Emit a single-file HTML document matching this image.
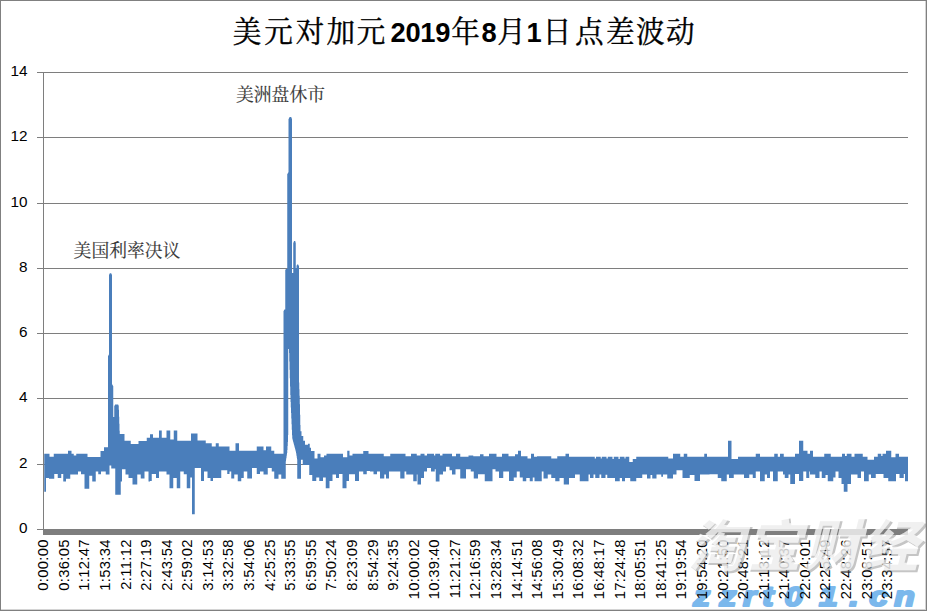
<!DOCTYPE html>
<html lang="zh-CN">
<head>
<meta charset="utf-8">
<title>美元对加元 2019年8月1日点差波动</title>
<style>
html,body{margin:0;padding:0;background:#fff;}
body{width:927px;height:611px;overflow:hidden;font-family:"Liberation Sans",sans-serif;}
#chart{display:block;width:927px;height:611px;}
#chart text{font-family:"Liberation Sans",sans-serif;fill:#000;}
.ylab{font-size:15.3px;text-anchor:end;}
.xlab{font-size:14.8px;text-anchor:end;letter-spacing:0.3px;}
.tnum{font-size:27.3px;font-weight:bold;letter-spacing:-0.3px;}
.wmurl{font-size:28px;font-weight:bold;font-style:italic;stroke:#74b5ec;stroke-width:2.2px;stroke-linejoin:round;}
</style>
</head>
<body>
<svg id="chart" width="927" height="611" viewBox="0 0 927 611" role="img" aria-label="美元对加元 2019年8月1日点差波动">
<rect x="0" y="0" width="927" height="611" fill="#fff"/>
<g shape-rendering="crispEdges">
<rect x="925" y="0" width="1" height="611" fill="#d4d4d4"/>
<rect x="0" y="609" width="927" height="1" fill="#d4d4d4"/>
<rect x="0" y="0" width="927" height="1" fill="#808080"/>
<rect x="0" y="0" width="1" height="611" fill="#808080"/>
<rect x="926" y="0" width="1" height="611" fill="#808080"/>
<rect x="0" y="610" width="927" height="1" fill="#808080"/>
<g fill="#7e7e7e">
<rect x="37" y="72" width="871" height="1"/>
<rect x="37" y="137" width="871" height="1"/>
<rect x="37" y="203" width="871" height="1"/>
<rect x="37" y="268" width="871" height="1"/>
<rect x="37" y="333" width="871" height="1"/>
<rect x="37" y="398" width="871" height="1"/>
<rect x="37" y="464" width="871" height="1"/>
<rect x="37" y="529" width="7" height="1"/>
<rect x="43" y="72" width="1" height="457"/>
<rect x="43" y="529" width="865" height="6"/>
</g>
</g>
<g class="ylabs">
<text class="ylab" x="27.5" y="76.4">14</text>
<text class="ylab" x="27.5" y="141.4">12</text>
<text class="ylab" x="27.5" y="207.4">10</text>
<text class="ylab" x="27.5" y="272.4">8</text>
<text class="ylab" x="27.5" y="337.4">6</text>
<text class="ylab" x="27.5" y="402.4">4</text>
<text class="ylab" x="27.5" y="468.4">2</text>
<text class="ylab" x="27.5" y="533.4">0</text>
</g>
<path id="series" fill="#4a7ebb" d="M44.25 453.75V491.75H46V453.75zM46 453.75V478H49V453.75zM49 453.75V478.75H49.5V453.75zM49.5 456.75V478.75H53.75V456.75zM53.75 453.75V478.75H54.25V453.75zM54.25 453.75V474H57.75V453.75zM57.75 453.75V478H61.25V453.75zM61.25 453.75V474H63.25V453.75zM63.25 453.75V481.5H66V453.75zM66 453.75V478.75H68V453.75zM68 450.75V478.75H70.25V450.75zM70.25 450.75V474.5H71.5V450.75zM71.5 453.75V474.5H73.75V453.75zM73.75 455.5V474.5H76.25V455.5zM76.25 453.75V474.5H78V453.75zM78 453.75V471.5H81V453.75zM81 453.75V474.25H84.5V453.75zM84.5 453.75V488.75H87.5V453.75zM87.5 457V488.75H89.25V457zM89.25 457V475.75H92.25V457zM92.25 457V481.5H95.75V457zM95.75 457V471.5H98.25V457zM98.25 457V474.25H100.5V457zM100.5 451V474.25H101V451zM101 451V471.5H104V451zM104 447.25V471.5H105.75V447.25zM105.75 447.25V474.5H108V447.25zM108 356V474.5H108.25V356zM108.25 355.5V474.5H108.5V355.5zM108.5 355V474.5H108.75V355zM108.75 354.5V474.5H109V354.5zM109 274.75V474.5H109.25V274.75zM109.25 274.25V474.5H109.5V274.25zM109.5 273.75V465.5H109.75V273.75zM109.75 273.25V465.5H111.25V273.25zM111.25 273.75V468.5H111.5V273.75zM111.5 274.25V468.5H111.75V274.25zM111.75 274.75V468.5H112V274.75zM112 384.25V468.5H112.25V384.25zM112.25 384.75V468.5H112.5V384.75zM112.5 385.25V468.5H112.75V385.25zM112.75 385.5V468.5H113V385.5zM113 386V468.5H113.25V386zM113.25 417V468.5H114.25V417zM114.25 406V468.5H114.5V406zM114.5 405.5V468.5H114.75V405.5zM114.75 405V468.5H115V405zM115 404.5V468.5H115.25V404.5zM115.25 404.5V494.75H118.25V404.5zM118.25 405V494.75H118.5V405zM118.5 405.75V494.75H118.75V405.75zM118.75 409.75V494.75H119V409.75zM119 416.75V494.75H119.25V416.75zM119.25 423.75V494.75H119.5V423.75zM119.5 430.75V494.75H119.75V430.75zM119.75 434V494.75H120.75V434zM120.75 434V481.5H122V434zM122 434V469.25H124.5V434zM124.5 440.75V469.25H125.5V440.75zM125.5 440.75V474.5H128.5V440.75zM128.5 440.75V478H130.75V440.75zM130.75 444V478H132.5V444zM132.5 444V484.5H137.25V444zM137.25 444V474.5H138.5V444zM138.5 441V474.5H140.75V441zM140.75 441V478.5H144.5V441zM144.5 441V471.5H146.75V441zM146.75 437.75V471.5H148.5V437.75zM148.5 437.75V481.5H150V437.75zM150 434.25V481H151.75V434.25zM151.75 434.25V474H153V434.25zM153 437.75V474H156V437.75zM156 437.75V478H159V437.75zM159 430.5V471.5H161.75V430.5zM161.75 437.75V471.5H166.5V437.75zM166.5 430.5V474.5H169.5V430.5zM169.5 430.5V488.25H170.25V430.5zM170.25 439.5V488.25H173.25V439.5zM173.25 439.5V478H173.75V439.5zM173.75 430.5V478H176.75V430.5zM176.75 430.5V488.25H177.25V430.5zM177.25 440.75V488.25H180.25V440.75zM180.25 440.75V471.5H183.75V440.75zM183.75 440.75V474.25H186.75V440.75zM186.75 440.75V488.25H190.25V440.75zM190.25 440.75V477.5H191V440.75zM191 433.5V477.5H192V433.5zM192 433.5V514.25H194.75V433.5zM194.75 433.5V468H197.5V433.5zM197.5 440.5V468H201V440.5zM201 440.5V481H204V440.5zM204 440.5V471.5H205.75V440.5zM205.75 443.25V471.5H207.5V443.25zM207.5 443.25V478H210.5V443.25zM210.5 443.25V481H211.75V443.25zM211.75 446.5V481H213V446.5zM213 446.5V478H215.75V446.5zM215.75 443.25V478H218.75V443.25zM218.75 446.5V478H221.25V446.5zM221.25 446.5V470.25H227.25V446.5zM227.25 446.5V474H229.5V446.5zM229.5 450.75V471.5H231.25V450.75zM231.25 450.75V478.5H234.25V450.75zM234.25 450.75V474.5H235.5V450.75zM235.5 443.25V474.5H237.75V443.25zM237.75 443.25V481.25H239V443.25zM239 450.75V481.25H241.25V450.75zM241.25 450.75V478H243.75V450.75zM243.75 450.75V471.5H247.25V450.75zM247.25 450.75V478.5H252V450.75zM252 450.75V468H256.75V450.75zM256.75 446.5V474H260V446.5zM260 446.5V471.5H263.5V446.5zM263.5 450.25V474.5H266V450.25zM266 446.5V474.5H267.75V446.5zM267.75 446.5V468H271.25V446.5zM271.25 450.75V468H271.75V450.75zM271.75 450.75V471.5H274.25V450.75zM274.25 453.75V478.75H278.5V453.75zM278.5 453.75V474.5H281.25V453.75zM281.25 453.75V478.75H283.5V453.75zM283.5 311V478.75H283.75V311zM283.75 310.5V478.75H284V310.5zM284 310V478.75H284.25V310zM284.25 309.5V478.75H285.25V309.5zM285.25 270V478.75H285.5V270zM285.5 269.5V478.75H285.75V269.5zM285.75 269V461.25H286V269zM286 269V459.5H286.25V269zM286.25 269V458H286.5V269zM286.5 269V456.25H286.75V269zM286.75 269V454.5H287V269zM287 269V453H287.25V269zM287.25 174V450H287.5V174zM287.5 173.5V446H287.75V173.5zM287.75 173.25V442H288V173.25zM288 172.75V435H288.25V172.75zM288.25 172.25V349H288.5V172.25zM288.5 119V349H288.75V119zM288.75 118.5V349H289V118.5zM289 118V353H289.25V118zM289.25 117.5V361.5H289.5V117.5zM289.5 117V369.75H289.75V117zM289.75 117V378.25H290V117zM290 117V386.5H290.25V117zM290.25 117V395H290.5V117zM290.5 117V402H290.75V117zM290.75 117V407.5H291V117zM291 117V413H291.25V117zM291.25 117.5V418.5H291.5V117.5zM291.5 118.25V424.25H291.75V118.25zM291.75 118.75V429.75H292V118.75zM292 273V435.25H292.25V273zM292.25 273V438.5H292.5V273zM292.5 273V439.5H292.75V273zM292.75 273V440.5H293V273zM293 273V441.5H293.25V273zM293.25 242.75V442.25H293.5V242.75zM293.5 242.25V443.25H293.75V242.25zM293.75 241.5V444.25H294V241.5zM294 241V445H294.25V241zM294.25 241V446H294.5V241zM294.5 241V447H294.75V241zM294.75 241V448H295V241zM295 241V448.75H295.25V241zM295.25 241.75V449.75H295.5V241.75zM295.5 242.75V450.75H295.75V242.75zM295.75 268V451.75H296V268zM296 268V453H296.25V268zM296.25 268V454.5H296.5V268zM296.5 265.75V456H296.75V265.75zM296.75 265V457.75H297V265zM297 264.5V459.25H297.25V264.5zM297.25 264.5V478.75H298.25V264.5zM298.25 265V478.75H298.5V265zM298.5 265.5V478.75H298.75V265.5zM298.75 266V478.75H299V266zM299 382.5V478.75H299.25V382.5zM299.25 389.25V478.75H299.5V389.25zM299.5 395.75V478.75H299.75V395.75zM299.75 404.25V478.75H300V404.25zM300 414.75V478.75H300.25V414.75zM300.25 425V478.75H300.5V425zM300.5 431.25V478.75H301V431.25zM301 431.25V459.75H301.5V431.25zM301.5 436V459.75H302.75V436zM302.75 436V465H303.25V436zM303.25 440.75V465H305V440.75zM305 444.75V465H308V444.75zM308 443.75V465H309.25V443.75zM309.25 443.75V475H309.75V443.75zM309.75 447.75V475H311V447.75zM311 451V475H312.25V451zM312.25 451V481H314.5V451zM314.5 458.5V481H316.25V458.5zM316.25 458.5V477.5H317.5V458.5zM317.5 453.75V477.5H319.25V453.75zM319.25 453.75V481H320.5V453.75zM320.5 457.25V481H323V457.25zM323 457.25V477.5H324V457.25zM324 455.5V477.5H325.75V455.5zM325.75 455.5V488.25H326.5V455.5zM326.5 453.75V488.25H329.5V453.75zM329.5 453.75V481H332.5V453.75zM332.5 453.75V474.5H336V453.75zM336 453.75V478H339V453.75zM339 453.75V474H342.5V453.75zM342.5 453.75V488.25H343V453.75zM343 457.25V488.25H346.5V457.25zM346.5 457.25V481H347.25V457.25zM347.25 450.75V481H349V450.75zM349 450.75V474.25H349.5V450.75zM349.5 455.5V474.25H352.5V455.5zM352.5 453.75V474.25H355V453.75zM355 453.75V481H359V453.75zM359 453.75V471.5H363.25V453.75zM363.25 451V474.25H366.75V451zM366.75 451V471H368.5V451zM368.5 453.75V471H370V453.75zM370 453.75V471.5H373.5V453.75zM373.5 453.75V474.25H377V453.75zM377 453.75V471.5H380V453.75zM380 453.75V478.5H383.75V453.75zM383.75 456.25V478.5H384.25V456.25zM384.25 456.25V474.5H386V456.25zM386 456.25V478.5H389V456.25zM389 456.25V471.5H390.25V456.25zM390.25 453.75V471.5H400.25V453.75zM400.25 453.75V478.5H404.5V453.75zM404.5 453.75V471.5H405.5V453.75zM405.5 456.25V471.5H406.25V456.25zM406.25 456.25V474.5H411V456.25zM411 453.75V474.5H413.25V453.75zM413.25 453.75V481.25H416.75V453.75zM416.75 455.5V474.5H417.5V455.5zM417.5 455.5V484.5H420.5V455.5zM420.5 453.75V484.5H421V453.75zM421 453.75V478H424V453.75zM424 453.75V471.5H424.5V453.75zM424.5 455.5V471.5H427V455.5zM427 453.75V468H431V453.75zM431 453.75V471.5H434V453.75zM434 455.5V471.5H434.75V455.5zM434.75 455.5V469.25H435.25V455.5zM435.25 453.75V469.25H435.75V453.75zM435.75 453.75V481.5H439.5V453.75zM439.5 453.75V474.5H440V453.75zM440 455.5V474.5H442.5V455.5zM442.5 453.75V474.5H443V453.75zM443 453.75V471.5H446V453.75zM446 453.75V466.75H449.5V453.75zM449.5 453.75V470.25H452V453.75zM452 456.25V474.5H455.5V456.25zM455.5 456.25V469.25H456V456.25zM456 453.75V469.25H460.25V453.75zM460.25 456.75V478.5H466V456.75zM466 456.75V469.25H468.5V456.75zM468.5 455.5V469.25H470.75V455.5zM470.75 455.5V471.5H473.25V455.5zM473.25 456.25V471.5H473.75V456.25zM473.75 456.25V478.5H478V456.25zM478 456.25V474.25H480V456.25zM480 454.25V474.25H483.5V454.25zM483.5 456.25V474.25H484.75V456.25zM484.75 456.25V481.25H489V456.25zM489 453.75V481.25H492.5V453.75zM492.5 453.75V469.25H495.5V453.75zM495.5 453.75V471.5H496.5V453.75zM496.5 456.75V471.5H499V456.75zM499 456.75V478H502V456.75zM502 453.75V478H503.25V453.75zM503.25 453.75V471.5H508.5V453.75zM508.5 456.25V471.5H509V456.25zM509 456.25V481H513.75V456.25zM513.75 456.25V477.5H515V456.25zM515 454.25V477.5H516.75V454.25zM516.75 454.25V471.5H518V454.25zM518 450.75V471.5H519.75V450.75zM519.75 450.75V477.5H521V450.75zM521 456.25V477.5H522.75V456.25zM522.75 456.25V481.25H526.25V456.25zM526.25 456.25V478H527.5V456.25zM527.5 458.5V478H529.75V458.5zM529.75 458.5V481.25H531V458.5zM531 453.75V481.25H532.75V453.75zM532.75 453.75V477.5H534V453.75zM534 456.75V477.5H534.5V456.75zM534.5 456.75V481.25H537V456.75zM537 456.25V481.25H541.75V456.25zM541.75 456.25V471.5H543.5V456.25zM543.5 456.25V478.5H547.75V456.25zM547.75 456.25V474.5H551.25V456.25zM551.25 458.5V478H555.25V458.5zM555.25 458.5V481.25H557.25V458.5zM557.25 456.25V481.25H559.5V456.25zM559.5 456.25V478H563.75V456.25zM563.75 456.25V484.5H565.5V456.25zM565.5 453.75V484.5H569V453.75zM569 456.75V478H575V456.75zM575 456.75V474.5H579.75V456.75zM579.75 456.75V481.25H588.5V456.75zM588.5 456.75V474.5H590V456.75zM590 456.75V478H593.5V456.75zM593.5 456.75V474.5H594.75V456.75zM594.75 458.5V474.5H595.25V458.5zM595.25 458.5V478H596V458.5zM596 456.75V478H599.5V456.75zM599.5 456.75V474.5H600.75V456.75zM600.75 458.5V474.5H601.25V458.5zM601.25 458.5V478H601.75V458.5zM601.75 456.75V478H605.5V456.75zM605.5 456.75V474.75H606.5V456.75zM606.5 458.5V474.75H607.25V458.5zM607.25 458.5V478H607.75V458.5zM607.75 456.75V478H612.5V456.75zM612.5 459V478H613.75V459zM613.75 456.75V478H615V456.75zM615 456.75V481.25H618.5V456.75zM618.5 459V481.25H619.75V459zM619.75 456.75V478H622V456.75zM622 456.75V481.25H624.5V456.75zM624.5 458.5V481.25H625V458.5zM625 458.5V478H625.5V458.5zM625.5 456.75V478H629.25V456.75zM629.25 462V478H630.25V462zM630.25 462V481.25H632.75V462zM632.75 459V481.25H636.25V459zM636.25 456.75V478H642.25V456.75zM642.25 456.75V474.5H647V456.75zM647 456.75V478.5H650.5V456.75zM650.5 456.75V475H652.25V456.75zM652.25 456.75V478.5H656.5V456.75zM656.5 456.75V474.5H661.25V456.75zM661.25 456.75V476.75H663V456.75zM663 456.75V474.5H667.25V456.75zM667.25 456.75V478.5H668.25V456.75zM668.25 458.5V478.5H673V458.5zM673 453.75V474.5H676.5V453.75zM676.5 453.75V470.25H680.25V453.75zM680.25 456.75V470.25H682.5V456.75zM682.5 456.75V478H683.75V456.75zM683.75 453.75V478H687.25V453.75zM687.25 456.75V478H689.75V456.75zM689.75 456.75V475H694.5V456.75zM694.5 456.75V481H700V456.75zM700 456.75V474.5H704.25V456.75zM704.25 453.75V474.5H707V453.75zM707 456.75V474.5H709.5V456.75zM709.5 456.75V474.25H717.75V456.75zM717.75 456.75V478H721.25V456.75zM721.25 456.75V481.25H726.75V456.75zM726.75 456.75V474.5H728V456.75zM728 440.75V474.5H729V440.75zM729 440.75V478H731.5V440.75zM731.5 459V478H733.75V459zM733.75 459V474.5H738V459zM738 456.75V474.5H744V456.75zM744 456.75V478H749.25V456.75zM749.25 456.75V474.5H752.75V456.75zM752.75 456.75V478H755.75V456.75zM755.75 453.75V471.5H760V453.75zM760 456.75V481.25H764.75V456.75zM764.75 456.75V474.5H767V456.75zM767 456.75V478H770V456.75zM770 456.75V471.5H773V456.75zM773 456.75V481.25H774.25V456.75zM774.25 453.75V481.25H777.75V453.75zM777.75 456.75V471.5H780V456.75zM780 453.75V471.5H783V453.75zM783 453.75V474.5H783.75V453.75zM783.75 456.75V474.5H784.75V456.75zM784.75 456.75V478H788.5V456.75zM788.5 456.75V474.5H790.25V456.75zM790.25 456.75V484H795V456.75zM795 453.75V474H799V453.75zM799 440.75V481H803.25V440.75zM803.25 450.75V471.5H806.25V450.75zM806.25 450.75V478H807.5V450.75zM807.5 453.75V478H809.25V453.75zM809.25 453.75V471.5H810V453.75zM810 450.75V474.5H813V450.75zM813 456.75V474.5H815.25V456.75zM815.25 456.75V478H819.5V456.75zM819.5 456.75V471.5H821.75V456.75zM821.75 456.75V478H824.25V456.75zM824.25 453.75V478H825.5V453.75zM825.5 453.75V475H827.75V453.75zM827.75 453.75V481.25H830.75V453.75zM830.75 456.75V481.25H833.25V456.75zM833.25 456.75V477.5H835.5V456.75zM835.5 456.75V471.5H838.5V456.75zM838.5 456.75V478H841.5V456.75zM841.5 456.75V484H842V456.75zM842 453.75V484H843.75V453.75zM843.75 453.75V491.75H845V453.75zM845 456V491.75H846.75V456zM846.75 453.75V491.75H847.5V453.75zM847.5 453.75V484H851V453.75zM851 453.75V474.5H851.5V453.75zM851.5 456.75V474.5H854.5V456.75zM854.5 453.75V474.5H857.5V453.75zM857.5 453.75V478H861V453.75zM861 453.75V471.5H862.75V453.75zM862.75 456.75V471.5H864V456.75zM864 456.75V481.25H867.5V456.75zM867.5 459.75V481.25H868.75V459.75zM868.75 459.75V474.5H871V459.75zM871 459.75V478H874V459.75zM874 456.75V478H875.75V456.75zM875.75 456.75V474H877.75V456.75zM877.75 453.75V474H881.25V453.75zM881.25 456V474H882.5V456zM882.5 453.75V474H883.5V453.75zM883.5 453.75V478H886V453.75zM886 450.75V478H888.25V450.75zM888.25 450.75V481.25H891.25V450.75zM891.25 457.25V481.25H895.5V457.25zM895.5 453.75V481.25H896V453.75zM896 453.75V474H899V453.75zM899 456.75V474H899.5V456.75zM899.5 456.75V478H903.75V456.75zM903.75 456.75V474H905V456.75zM905 456.75V481.25H908V456.75z"/>
<g id="wm-url" fill="#74b5ec" opacity="0.95">
<text class="wmurl" style="fill:#74b5ec" transform="translate(0 606) scale(1.2 1)" y="0" x="577.7 599.5 619.2 635.3 653.7 682.5 707.8 724.3 745.3">zzrt01.cn</text>
</g>
<g class="xlabs">
<text class="xlab" transform="translate(48.20 539.3) rotate(-90)">0:00:00</text>
<text class="xlab" transform="translate(68.78 539.3) rotate(-90)">0:36:05</text>
<text class="xlab" transform="translate(89.37 539.3) rotate(-90)">1:12:47</text>
<text class="xlab" transform="translate(109.95 539.3) rotate(-90)">1:53:34</text>
<text class="xlab" transform="translate(130.54 539.3) rotate(-90)">2:11:12</text>
<text class="xlab" transform="translate(151.12 539.3) rotate(-90)">2:27:19</text>
<text class="xlab" transform="translate(171.71 539.3) rotate(-90)">2:43:54</text>
<text class="xlab" transform="translate(192.29 539.3) rotate(-90)">2:59:02</text>
<text class="xlab" transform="translate(212.88 539.3) rotate(-90)">3:14:53</text>
<text class="xlab" transform="translate(233.47 539.3) rotate(-90)">3:32:58</text>
<text class="xlab" transform="translate(254.05 539.3) rotate(-90)">3:54:06</text>
<text class="xlab" transform="translate(274.63 539.3) rotate(-90)">4:25:25</text>
<text class="xlab" transform="translate(295.22 539.3) rotate(-90)">5:33:55</text>
<text class="xlab" transform="translate(315.81 539.3) rotate(-90)">6:59:55</text>
<text class="xlab" transform="translate(336.39 539.3) rotate(-90)">7:50:24</text>
<text class="xlab" transform="translate(356.98 539.3) rotate(-90)">8:23:09</text>
<text class="xlab" transform="translate(377.56 539.3) rotate(-90)">8:54:29</text>
<text class="xlab" transform="translate(398.14 539.3) rotate(-90)">9:24:35</text>
<text class="xlab" transform="translate(418.73 539.3) rotate(-90)">10:00:02</text>
<text class="xlab" transform="translate(439.31 539.3) rotate(-90)">10:39:40</text>
<text class="xlab" transform="translate(459.90 539.3) rotate(-90)">11:21:27</text>
<text class="xlab" transform="translate(480.49 539.3) rotate(-90)">12:16:59</text>
<text class="xlab" transform="translate(501.07 539.3) rotate(-90)">13:28:34</text>
<text class="xlab" transform="translate(521.66 539.3) rotate(-90)">14:14:51</text>
<text class="xlab" transform="translate(542.24 539.3) rotate(-90)">14:56:08</text>
<text class="xlab" transform="translate(562.83 539.3) rotate(-90)">15:30:49</text>
<text class="xlab" transform="translate(583.41 539.3) rotate(-90)">16:08:32</text>
<text class="xlab" transform="translate(604.00 539.3) rotate(-90)">16:48:17</text>
<text class="xlab" transform="translate(624.58 539.3) rotate(-90)">17:24:48</text>
<text class="xlab" transform="translate(645.17 539.3) rotate(-90)">18:05:51</text>
<text class="xlab" transform="translate(665.75 539.3) rotate(-90)">18:41:25</text>
<text class="xlab" transform="translate(686.34 539.3) rotate(-90)">19:19:54</text>
<text class="xlab" transform="translate(706.92 539.3) rotate(-90)">19:54:20</text>
<text class="xlab" transform="translate(727.51 539.3) rotate(-90)">20:21:50</text>
<text class="xlab" transform="translate(748.09 539.3) rotate(-90)">20:48:21</text>
<text class="xlab" transform="translate(768.68 539.3) rotate(-90)">21:13:12</text>
<text class="xlab" transform="translate(789.26 539.3) rotate(-90)">21:40:37</text>
<text class="xlab" transform="translate(809.85 539.3) rotate(-90)">22:04:01</text>
<text class="xlab" transform="translate(830.43 539.3) rotate(-90)">22:25:49</text>
<text class="xlab" transform="translate(851.02 539.3) rotate(-90)">22:48:26</text>
<text class="xlab" transform="translate(871.60 539.3) rotate(-90)">23:08:51</text>
<text class="xlab" transform="translate(892.19 539.3) rotate(-90)">23:34:57</text>
</g>
<g id="title" aria-label="美元对加元 2019年8月1日点差波动">
<text transform="translate(0 41.8) scale(1 1.028)" y="0" x="232.76 264.16 295.69 326.40 356.81" style="font-family:'Liberation Serif','Noto Serif CJK SC',serif;font-size:28.6px;fill:#000;stroke:#000;stroke-width:0.37px;stroke-linejoin:round;">美元对加元</text>
<text transform="translate(0 41.8) scale(1 1.028)" y="0" x="451.19" style="font-family:'Liberation Serif','Noto Serif CJK SC',serif;font-size:28.6px;fill:#000;stroke:#000;stroke-width:0.37px;stroke-linejoin:round;">年</text>
<text transform="translate(0 41.8) scale(1 1.028)" y="0" x="497.32" style="font-family:'Liberation Serif','Noto Serif CJK SC',serif;font-size:28.6px;fill:#000;stroke:#000;stroke-width:0.37px;stroke-linejoin:round;">月</text>
<text transform="translate(0 41.8) scale(1 1.028)" y="0" x="542.69 574.93 605.92 636.03 665.90" style="font-family:'Liberation Serif','Noto Serif CJK SC',serif;font-size:28.6px;fill:#000;stroke:#000;stroke-width:0.37px;stroke-linejoin:round;">日点差波动</text>
<g stroke="none">
<text class="tnum" x="390.6" y="41.7">2019</text>
<text class="tnum" x="481.6" y="41.7">8</text>
<text class="tnum" x="526.6" y="41.7">1</text>
</g>
</g>
<g id="note-fomc" aria-label="美国利率决议">
<text y="256.5" x="73.6 91.4 109.2 127 144.8 162.6" style="font-family:'Liberation Serif','Noto Serif CJK SC',serif;font-size:17.8px;fill:#383838;stroke:#383838;stroke-width:0.16px;">美国利率决议</text>
</g>
<g id="note-close" aria-label="美洲盘休市">
<text y="101.3" x="236 253.8 271.6 289.4 307.2" style="font-family:'Liberation Serif','Noto Serif CJK SC',serif;font-size:17.8px;fill:#383838;stroke:#383838;stroke-width:0.16px;">美洲盘休市</text>
</g>
<g id="wm-cjk" aria-label="淘宝财经">
<g opacity="0.45" transform="translate(2 2)">
<text transform="translate(0 565.5) skewX(-14)" y="0" x="686.5 744.7 802.9 861.1" style="font-family:'Liberation Sans','Noto Sans CJK SC',sans-serif;font-size:57px;font-weight:900;fill:#808080;">淘宝财经</text>
</g>
<g opacity="0.74" transform="translate(0 0)">
<text transform="translate(0 565.5) skewX(-14)" y="0" x="686.5 744.7 802.9 861.1" style="font-family:'Liberation Sans','Noto Sans CJK SC',sans-serif;font-size:57px;font-weight:900;fill:#ffffff;">淘宝财经</text>
</g>
</g>
</svg>
</body>
</html>
